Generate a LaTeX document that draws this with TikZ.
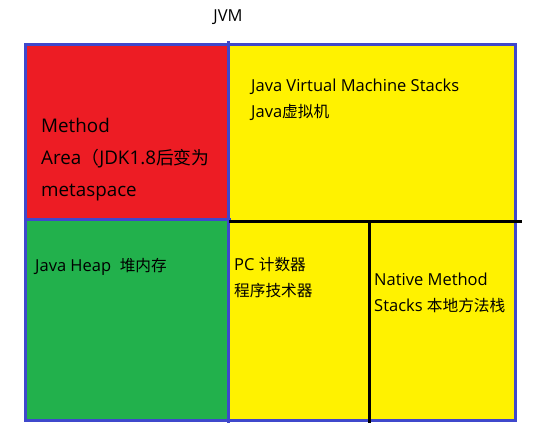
\documentclass[tikz,border=0pt]{standalone}
\usepackage{fontspec}
\setmainfont{Open Sans}
\newfontfamily\cjk[Scale=0.95]{Noto Sans CJK SC}
\definecolor{frame}{HTML}{3F48CC}
\definecolor{area}{HTML}{ED1C24}
\definecolor{stk}{HTML}{FFF200}
\definecolor{heap}{HTML}{22B14C}
\begin{document}
\begin{tikzpicture}[x=1pt,y=-1pt,
      lbl/.style={anchor=base west,inner sep=0pt,font=\fontsize{16.5}{19}\selectfont},
      big/.style={lbl,font=\fontsize{18.8}{22}\selectfont},
      rim/.style={draw=frame,line width=3pt},
      cut/.style={draw=black,line width=3pt}]
    \useasboundingbox (0,0) rectangle (533,440);
    % the four regions
    \fill[area] (25,44) rectangle (228,219);
    \fill[stk] (228,44) rectangle (515,420);
    \fill[heap] (25,219) rectangle (228,420);
    \draw[rim] (25,44) rectangle (515,420);
    \draw[rim] (228,41) -- (228,423) (25,219) -- (231,219);
    \draw[cut] (229,221) -- (522,221) (369,221) -- (369,423);
    % labels
    \node[lbl,anchor=base] (jvm) at (228,21) {JVM};
    \node[big] (ma1) at (41,132) {Method};
    \node[big] (ma2) at (41,164) {Area{\cjk（}JDK1.8{\cjk 后变为}};
    \node[big] (ma3) at (41,196) {metaspace};
    \node[lbl] (vm1) at (251,91) {Java Virtual Machine Stacks};
    \node[lbl] (vm2) at (251,117.5) {Java{\cjk 虚拟机}};
    \node[lbl] (hp) at (35,271) {Java Heap\ \ {\cjk 堆内存}};
    \node[lbl] (pc1) at (234,270) {PC {\cjk 计数器}};
    \node[lbl] (pc2) at (234,296) {\cjk 程序技术器};
    \node[lbl] (nm1) at (374,285) {Native Method};
    \node[lbl] (nm2) at (374,311) {Stacks {\cjk 本地方法栈}};
  \end{tikzpicture}
\end{document}
